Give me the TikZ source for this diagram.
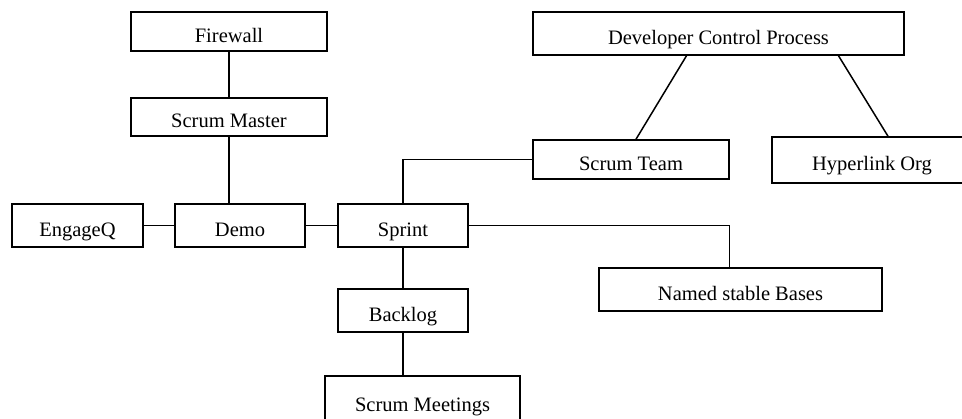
\documentclass[tikz,border=0pt]{standalone}
\usepackage{fontspec}
\setmainfont{Liberation Serif}
\usepackage{tikz}

\begin{document}
\begin{tikzpicture}[x=1pt, y=-1pt, line width=1.5pt,
        box/.style={draw, rectangle, text height=21.5pt, text depth=0pt,
            font=\fontsize{20.5}{24}\selectfont}]
            \useasboundingbox (0, 0) rectangle (962, 419);
            \clip (0, 0) rectangle (962, 419);

            \node[box, minimum width=196, minimum height=39] (firewall) at (229, 31.5) {Firewall};
            \node[box, minimum width=196, minimum height=38] (scrummaster) at (229, 117) {Scrum Master};
            \node[box, minimum width=131, minimum height=43] (engageq) at (77.5, 225.5) {EngageQ};
            \node[box, minimum width=130, minimum height=43] (demo) at (240, 225.5) {Demo};
            \node[box, minimum width=130, minimum height=43] (sprint) at (403, 225.5) {Sprint};
            \node[box, minimum width=130, minimum height=43] (backlog) at (403, 310.5) {Backlog};
            \node[box, minimum width=195, minimum height=50] (meetings) at (422.5, 401) {Scrum Meetings};
            \node[box, minimum width=371, minimum height=43] (devcontrol) at (718.5, 33.5) {Developer Control Process};
            \node[box, minimum width=196, minimum height=39] (scrumteam) at (631, 159.5) {Scrum Team};
            \node[box, minimum width=200, minimum height=46] (hyperlink) at (872, 160) {Hyperlink Org};
            \node[box, minimum width=283, minimum height=43] (stablebases) at (740.5, 289.5) {Named stable Bases};

            \draw (firewall) -- (scrummaster);
            \draw (scrummaster.south) -- (scrummaster.south |- demo.north);
            \draw (engageq) -- (demo);
            \draw (demo) -- (sprint);
            \draw (sprint) -- (backlog);
            \draw (backlog.south) -- (backlog.south |- meetings.north);
            \draw (sprint.north) |- (scrumteam.west);
            \draw (sprint.east) -| ([xshift=-11pt]stablebases.north);
            \draw ([xshift=-32pt]devcontrol.south) -- ([xshift=5pt]scrumteam.north);
            \draw ([xshift=120pt]devcontrol.south) -- ([xshift=16pt]hyperlink.north);
        \end{tikzpicture}
\end{document}
